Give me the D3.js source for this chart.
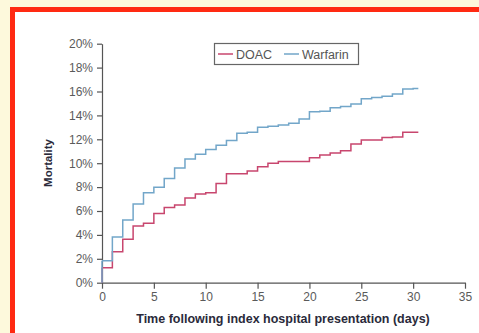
<!DOCTYPE html>
<html><head><meta charset="utf-8">
<script src="https://cdn.jsdelivr.net/npm/d3@7"></script>
<style>
html,body{margin:0;padding:0;background:#fdf9dc;}
svg{display:block;}
</style></head>
<body>
<svg id="c" width="479" height="333"></svg>
<script>
const days = [0,1,2,3,4,5,6,7,8,9,10,11,12,13,14,15,16,17,18,19,20,21,22,23,24,25,26,27,28,29,30,30.5];
const warfarin = [1.84,3.82,5.24,6.58,7.53,7.98,8.73,9.6,10.35,10.75,11.15,11.5,11.9,12.5,12.6,13.0,13.1,13.2,13.35,13.7,14.3,14.35,14.65,14.75,14.95,15.4,15.5,15.6,15.8,16.2,16.25,16.25];
const doac = [1.26,2.6,3.63,4.74,4.97,5.8,6.3,6.5,7.08,7.42,7.53,8.31,9.12,9.12,9.35,9.7,10.0,10.15,10.15,10.15,10.46,10.68,10.85,11.05,11.6,11.94,11.94,12.16,12.2,12.6,12.6,12.6];
const xTicks = [0,5,10,15,20,25,30,35];
const yTicks = [0,2,4,6,8,10,12,14,16,18,20];
const colors = {DOAC:"#c8466e", Warfarin:"#72a6c9"};

const svg = d3.select("#c");
// frame
svg.append("rect").attr("x",0).attr("y",0).attr("width",479).attr("height",333).attr("fill","#fdf9dc");
svg.append("rect").attr("x",12.5).attr("y",9.5).attr("width",480).attr("height",340)
  .attr("fill","#ffffff").attr("stroke","#ff2a12").attr("stroke-width",5);

const x = d3.scaleLinear().domain([0,35]).range([102,465]);
const y = d3.scaleLinear().domain([0,20]).range([282.7,43.7]);

const font = "'Liberation Sans', Arial, sans-serif";

const gx = svg.append("g").attr("transform","translate(0,282.7)")
  .call(d3.axisBottom(x).tickValues(xTicks).tickSize(6).tickPadding(4).tickSizeOuter(0));
const gy = svg.append("g").attr("transform","translate(102,0)")
  .call(d3.axisLeft(y).tickValues(yTicks).tickSize(5).tickPadding(4).tickSizeOuter(0).tickFormat(d=>d+"%"));
[gx,gy].forEach(g=>{
  g.selectAll("path,line").attr("stroke","#555").attr("stroke-width",1.2);
  g.selectAll("text").attr("fill","#5a5a5a").style("font-family",font).style("font-size","12px");
});

function drawSeries(vals,color){
  const ln = d3.line().x((d,i)=>x(days[i])).y(d=>y(d)).curve(d3.curveStepAfter);
  svg.append("path").attr("d", ln(vals))
    .attr("fill","none").attr("stroke",color).attr("stroke-width",1.5);
  svg.append("line").attr("x1",x(0)).attr("x2",x(0)).attr("y1",y(0)).attr("y2",y(vals[0]))
    .attr("stroke",color).attr("stroke-width",1.5);
}
drawSeries(doac, colors.DOAC);
drawSeries(warfarin, colors.Warfarin);

// legend
const lg = svg.append("g");
lg.append("rect").attr("x",214.5).attr("y",43.5).attr("width",144).attr("height",21)
  .attr("fill","#fff").attr("stroke","#666").attr("stroke-width",1.2);
const legItems = [{name:"DOAC",lx:218,tx:236},{name:"Warfarin",lx:284,tx:302}];
legItems.forEach(it=>{
  lg.append("line").attr("x1",it.lx).attr("x2",it.lx+15).attr("y1",54).attr("y2",54)
    .attr("stroke",colors[it.name]).attr("stroke-width",1.5);
  lg.append("text").attr("x",it.tx).attr("y",58.5).text(it.name)
    .attr("fill","#555").style("font-family",font).style("font-size","12.5px");
});

// axis titles
svg.append("text").attr("x",283).attr("y",323).attr("text-anchor","middle")
  .text("Time following index hospital presentation (days)")
  .attr("fill","#2a2a3a").style("font-family",font).style("font-size","12.5px").style("font-weight","bold");
svg.append("text").attr("transform","translate(52,163) rotate(-90)").attr("text-anchor","middle")
  .text("Mortality")
  .attr("fill","#2a2a3a").style("font-family",font).style("font-size","11.5px").style("font-weight","bold");
</script>
</body></html>
